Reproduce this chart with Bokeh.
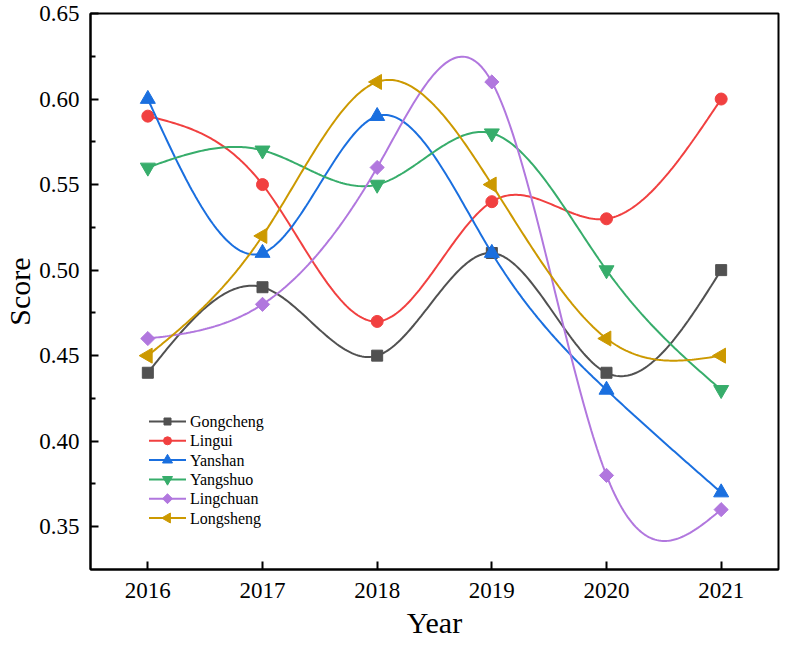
import numpy as np
from bokeh.plotting import figure
from bokeh.models import Range1d, FixedTicker, NumeralTickFormatter
from bokeh.core.properties import value
from bokeh.embed import file_html
from bokeh.resources import INLINE

years = [2016, 2017, 2018, 2019, 2020, 2021]
gongcheng = [0.44, 0.49, 0.45, 0.51, 0.44, 0.50]
lingui = [0.59, 0.55, 0.47, 0.54, 0.53, 0.60]
yanshan = [0.60, 0.51, 0.59, 0.51, 0.43, 0.37]
yangshuo = [0.56, 0.57, 0.55, 0.58, 0.50, 0.43]
lingchuan = [0.46, 0.48, 0.56, 0.61, 0.38, 0.36]
longsheng = [0.45, 0.52, 0.61, 0.55, 0.46, 0.45]

y_ticks = [0.35, 0.40, 0.45, 0.50, 0.55, 0.60, 0.65]
y_minor = [0.375, 0.425, 0.475, 0.525, 0.575, 0.625]

# name, values, colour, marker, angle, size, legend size
series = [
    ("Gongcheng", gongcheng, "#515151", "square", 0.0, 11, 7),
    ("Lingui", lingui, "#F14040", "circle", 0.0, 12, 8),
    ("Yanshan", yanshan, "#1A6FDF", "triangle", 0.0, 15, 10),
    ("Yangshuo", yangshuo, "#37AD6B", "inverted_triangle", 0.0, 15, 10),
    ("Lingchuan", lingchuan, "#B177DE", "square", np.pi / 4, 10, 7),
    ("Longsheng", longsheng, "#CC9900", "triangle", np.pi / 2, 15, 10),
]


def natural_spline(x, y, n=60):
    x = np.asarray(x, float)
    y = np.asarray(y, float)
    k = len(x)
    h = np.diff(x)
    A = np.zeros((k, k))
    b = np.zeros(k)
    A[0, 0] = 1
    A[-1, -1] = 1
    for i in range(1, k - 1):
        A[i, i - 1] = h[i - 1]
        A[i, i] = 2 * (h[i - 1] + h[i])
        A[i, i + 1] = h[i]
        b[i] = 6 * ((y[i + 1] - y[i]) / h[i] - (y[i] - y[i - 1]) / h[i - 1])
    M = np.linalg.solve(A, b)
    xs, ys = [], []
    for i in range(k - 1):
        t = np.linspace(x[i], x[i + 1], n, endpoint=(i == k - 2))
        a = x[i + 1] - t
        c = t - x[i]
        v = (M[i] * a ** 3 + M[i + 1] * c ** 3) / (6 * h[i]) \
            + (y[i] / h[i] - M[i] * h[i] / 6) * a \
            + (y[i + 1] / h[i] - M[i + 1] * h[i] / 6) * c
        xs.extend(t)
        ys.extend(v)
    return xs, ys


FONT = "Liberation Serif"
FW, FH = 688, 556
XR = (2015.5, 2021.5)
YR = (0.325, 0.65)

p = figure(frame_width=FW, frame_height=FH, output_backend="svg",
           toolbar_location=None,
           x_range=Range1d(*XR), y_range=Range1d(*YR),
           min_border_left=80, min_border_right=2, min_border_top=13,
           min_border_bottom=73)
p.xgrid.visible = False
p.ygrid.visible = False
p.outline_line_color = "black"
p.outline_line_width = 2
p.outline_line_alpha = 1

for name, vals, color, marker, ang, size, lsize in series:
    sx, sy = natural_spline(years, vals)
    p.line(sx, sy, line_color=color, line_width=2)
    p.scatter(years, vals, marker=marker, angle=ang, size=size,
              fill_color=color, line_color=color)

p.xaxis.ticker = FixedTicker(ticks=years, minor_ticks=[])
p.yaxis.ticker = FixedTicker(ticks=y_ticks, minor_ticks=y_minor)
p.yaxis.formatter = NumeralTickFormatter(format="0.00")

for ax in (p.xaxis[0], p.yaxis[0]):
    ax.axis_line_width = 2
    ax.axis_line_color = "black"
    ax.major_tick_in = 8
    ax.major_tick_out = 0
    ax.minor_tick_in = 5
    ax.minor_tick_out = 0
    ax.major_tick_line_width = 2
    ax.minor_tick_line_width = 2
    ax.major_label_text_font = FONT
    ax.major_label_text_color = "black"
    ax.axis_label_text_font = FONT
    ax.axis_label_text_font_size = "30px"
    ax.axis_label_text_font_style = "normal"
    ax.axis_label_text_color = "black"

p.xaxis.major_label_text_font_size = "23px"
p.yaxis.major_label_text_font_size = "23px"
p.xaxis.axis_label = "Year"
p.yaxis.axis_label = "Score"
p.xaxis.major_label_standoff = 13
p.yaxis.major_label_standoff = 11
p.xaxis.axis_label_standoff = 5
p.yaxis.axis_label_standoff = 0


# hand-built legend (Bokeh legends do not rotate markers)
def fx(off):
    return XR[0] + off * (XR[1] - XR[0]) / FW


def fy(off):
    return YR[0] + off * (YR[1] - YR[0]) / FH


for i, (name, vals, color, marker, ang, size, lsize) in enumerate(series):
    yc = fy(148 - i * 19.3)
    p.segment(x0=fx(58.5), y0=yc, x1=fx(95.5), y1=yc,
              line_color=color, line_width=2)
    p.scatter([fx(77)], [yc], marker=marker, angle=ang, size=lsize,
              fill_color=color, line_color=color)
    p.text([fx(99.5)], [yc], text=[name], text_baseline="middle",
           text_align="left", text_font=value(FONT),
           text_font_size="16px", text_color="black")

open("out.html", "w").write(file_html(p, INLINE))
